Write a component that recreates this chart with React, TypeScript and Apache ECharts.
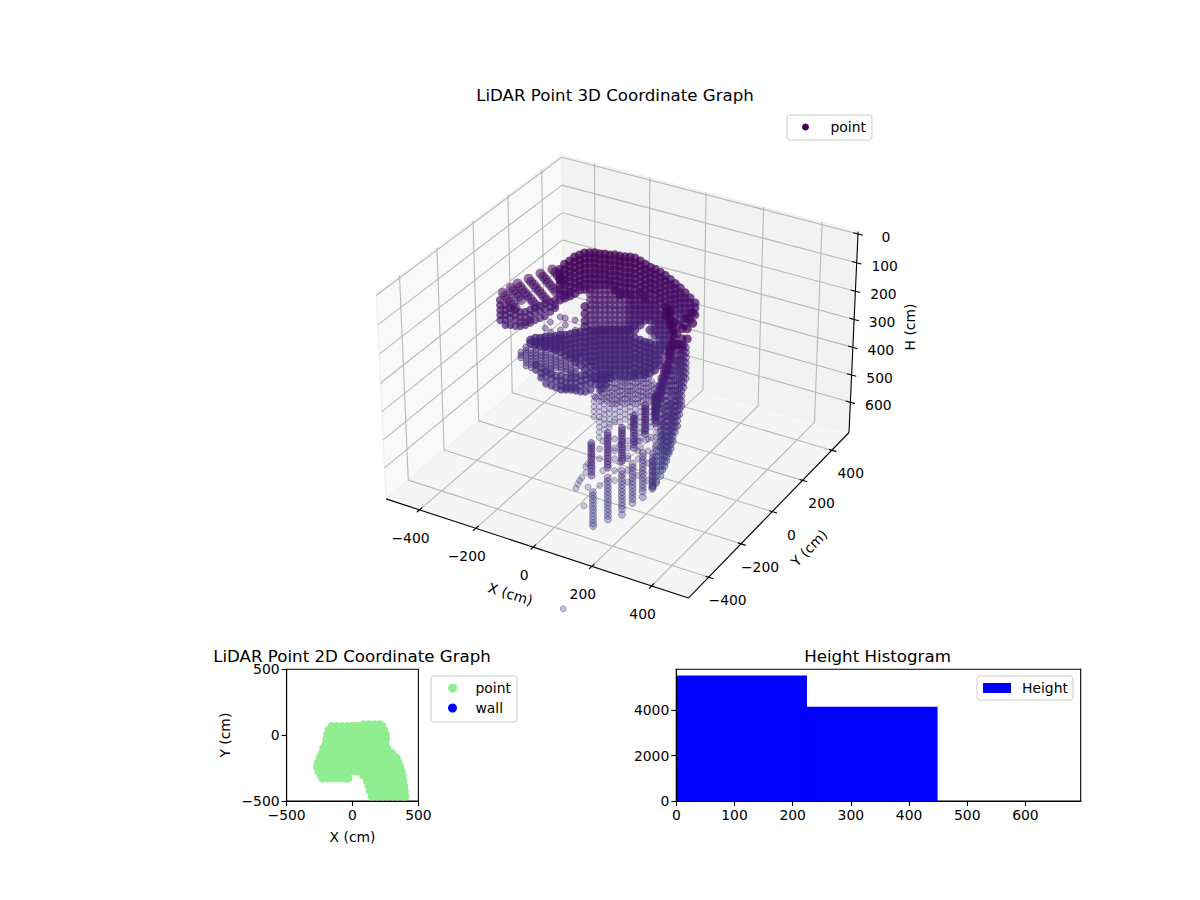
import React, { useEffect, useRef } from 'react';
import * as echarts from 'echarts';

// tick labels of the 3D box
const xTicks3d = [-400, -200, 0, 200, 400];
const yTicks3d = [-400, -200, 0, 200, 400];
const hTicks3d = [0, 100, 200, 300, 400, 500, 600];

// point cloud, each entry is [X, Y, H, H, H ...] in cm: one spot seen at several heights
const capColumns = [
  [-209, -10, 71, 88, 106, 124, 142, 159, 177],
  [-196, -3, 53, 71, 88, 106, 124, 142, 159, 170],
  [-183, 5, 42, 60, 78, 96, 114, 132, 150, 163],
  [-170, 12, 28, 46, 64, 82, 100, 118, 136, 154],
  [-157, 20, 21, 39, 57, 75, 93, 111, 128, 142],
  [-144, 27, 14, 32, 50, 68, 86, 104, 122, 140, 200, 225, 250, 270],
  [-131, 35, 14, 32, 50, 68, 86, 104, 122, 140],
  [-118, 43, 14, 32, 50, 68, 86, 106, 124],
  [-105, 50, 18, 35, 53, 71, 88, 106, 124],
  [-92, 58, 18, 35, 53, 71, 88, 106, 124],
  [-79, 65, 21, 39, 57, 75, 93, 111, 124],
  [-66, 73, 21, 39, 57, 75, 93, 111, 128, 142],
  [-53, 80, 25, 42, 60, 78, 96, 114, 132, 150, 159],
  [-40, 88, 28, 46, 64, 82, 100, 118, 136, 154],
  [-27, 95, 28, 46, 64, 82, 100, 118, 136, 159],
  [-14, 103, 32, 50, 68, 86, 104, 122, 140, 159],
  [0, 111, 42, 60, 78, 96, 114, 132, 150, 159],
  [13, 118, 53, 71, 88, 106, 124, 142, 159, 170],
  [26, 126, 64, 82, 100, 118, 136, 154, 177],
  [39, 133, 71, 88, 106, 124, 142, 159, 177, 195],
  [52, 141, 81, 99, 117, 135, 153, 171, 189, 212],
  [65, 148, 92, 110, 128, 146, 164, 182, 200, 230],
  [78, 156, 106, 124, 142, 159, 177, 195, 212, 248],
  [91, 163, 120, 138, 156, 174, 192, 210, 230, 255],
  [104, 171, 135, 153, 171, 189, 207, 225, 248, 265],
  [117, 178, 152, 170, 188, 206, 224, 242, 265],
  [130, 186, 170, 188, 206, 224, 248],
  [143, 194, 188, 206, 230],
  [297, -104, 32, 67],
  [284, -112, 50, 85, 120],
  [271, -119, 85, 120, 145],
  [258, -127, 103, 138],
];

const lobeColumns = [
  [-366, -101, 177, 195, 212, 230, 248],
  [-353, -93, 195, 212, 230, 248, 265],
  [-340, -86, 205, 222, 240, 265],
  [-327, -78, 212, 230, 248, 269],
  [-314, -71, 219, 237, 255, 269],
  [-301, -63, 219, 237, 255, 265],
  [-288, -55, 212, 230, 248, 258],
  [-275, -48, 205, 222, 248],
  [-262, -40, 198, 216, 241],
  [-249, -33, 191, 209, 234],
  [-235, -25, 184, 202, 219],
  [-222, -18, 177, 195, 205],
];

const fingerPoints = [
  [-358, -96, 152], [-352, -92, 163], [-345, -88, 173], [-339, -85, 184], [-332, -81, 194], [-326, -77, 205],
  [-337, -84, 135], [-331, -80, 145], [-324, -76, 156], [-318, -73, 166], [-311, -69, 177],
  [-319, -74, 120], [-312, -70, 131], [-306, -67, 141], [-299, -63, 152], [-293, -59, 162], [-286, -55, 173], [-280, -51, 184], [-273, -47, 194],
  [-290, -57, 103], [-284, -53, 114], [-277, -49, 124], [-271, -46, 135], [-264, -42, 145], [-258, -38, 156], [-251, -34, 167], [-245, -30, 177],
  [-259, -39, 85], [-252, -35, 96], [-246, -31, 106], [-239, -28, 117], [-233, -24, 127], [-226, -20, 138], [-220, -16, 149],
  [-228, -21, 71], [-221, -17, 81], [-215, -13, 92], [-208, -10, 102], [-202, -6, 113],
];

const midColumns = [
  [-131, 35, 159, 177, 195, 212, 230, 248, 265, 283],
  [-118, 43, 142, 159, 177, 195, 212, 230, 248, 265, 283],
  [-105, 50, 142, 159, 177, 195, 212, 230, 248, 265, 283],
  [-92, 58, 142, 159, 177, 195, 212, 230, 248, 265, 283],
  [-79, 65, 142, 159, 177, 195, 212, 230, 248, 265, 283],
  [-66, 73, 142, 159, 177, 195, 212, 230, 248, 265, 283],
  [-53, 80, 159, 177, 195, 212, 230, 248, 265, 283],
  [-40, 88, 159, 177, 195, 212, 230, 248, 265, 283],
];

const midRightColumns = [
  [-27, 95, 159, 177, 195, 212, 230, 248, 265, 283],
  [-14, 103, 177, 195, 212, 230, 248, 265, 283],
  [0, 111, 177, 195, 212, 230, 248, 265],
  [13, 118, 177, 195, 212, 230, 248],
  [26, 126, 195, 212, 230, 248, 283],
  [39, 133, 212, 230, 248, 265, 283, 301],
  [52, 141, 230, 248, 265, 283, 301, 319],
  [65, 148, 248, 265, 283, 301, 319, 336, 354],
  [78, 156, 265, 283, 301, 319, 336, 354, 372],
];

const plateColumns = [
  [-288, -55, 319, 330],
  [-275, -48, 312, 326, 336],
  [-262, -40, 312, 326, 340],
  [-249, -33, 308, 322, 336, 343],
  [-235, -25, 308, 322, 336, 347],
  [-222, -18, 305, 319, 333, 347, 354],
  [-209, -10, 301, 315, 329, 343, 361],
  [-196, -3, 301, 319, 336, 354, 372],
  [-183, 5, 298, 316, 333, 351, 369, 382],
  [-170, 12, 294, 312, 329, 347, 365, 382, 396],
  [-157, 20, 290, 308, 326, 343, 361, 379, 407],
  [-144, 27, 290, 308, 326, 343, 361, 379, 397, 425],
  [-131, 35, 287, 305, 322, 340, 358, 376, 393, 411, 439],
  [-118, 43, 287, 305, 322, 340, 358, 376, 393, 411, 429, 453],
  [-105, 50, 283, 301, 319, 336, 354, 372, 389, 407, 425, 442, 453],
  [-92, 58, 283, 301, 319, 336, 354, 372, 389, 407, 425, 442, 453],
  [-79, 65, 283, 301, 319, 336, 354, 372, 389, 407, 425, 442, 453],
  [-66, 73, 283, 301, 319, 336, 354, 372, 389, 407, 425, 446],
  [-53, 80, 283, 301, 319, 336, 354, 372, 389, 407, 425, 446],
  [-40, 88, 283, 301, 319, 336, 354, 372, 389, 407, 425, 446],
  [-27, 95, 283, 301, 319, 336, 354, 372, 389, 407, 425, 446],
  [-14, 103, 312, 329, 347, 365, 383, 400, 418, 436, 446],
  [0, 111, 319, 336, 354, 372, 389, 407, 425, 442],
  [13, 118, 326, 343, 361, 379, 396, 414, 432, 442],
  [26, 126, 329, 347, 365, 383, 400, 418, 436],
  [39, 133, 336, 354, 372, 389, 407, 425],
  [52, 141, 336, 354, 372, 389, 407],
];

const lowerBandColumns = [
  [-275, -48, 407, 425],
  [-262, -40, 418, 436, 453],
  [-249, -33, 432, 450, 474],
  [-235, -25, 439, 457, 481],
  [-222, -18, 446, 464, 488],
  [-209, -10, 446, 464, 482, 496],
  [-196, -3, 453, 471, 489, 496],
  [-183, 5, 453, 471, 489, 496],
  [-170, 12, 453, 471, 489, 499],
  [-157, 20, 446, 464, 482, 503],
  [-144, 27, 442, 460, 478, 503],
  [-131, 35, 453, 471, 496],
  [-118, 43, 460, 478],
  [-105, 50, 460, 478, 496],
  [-92, 58, 460, 482],
];

const looseColumns = [
  [-314, -71, 361, 372, 382],
  [-301, -63, 343, 354, 365, 377, 389, 400, 411],
  [-288, -55, 354, 365, 375, 385, 396, 407, 418],
  [-275, -48, 354, 365, 375, 385, 396, 404],
  [-262, -40, 361, 372, 382, 393, 404],
  [-249, -33, 276, 361, 372, 382, 393, 404, 414, 425],
  [-235, -25, 255, 290, 368, 378, 389, 400, 411, 422, 432],
  [-222, -18, 375, 385, 396, 407, 418],
  [-209, -10, 237, 283, 382, 393, 404, 414, 425],
  [-196, -3, 241, 265, 389, 400, 411, 422, 432],
  [-183, 5, 404, 414, 425, 435, 442],
  [-170, 12, 248, 283, 418, 429, 439],
  [-118, 43, 524],
];

const curtainColumns = [
  [109, -350, 244, 262, 280, 297, 315],
  [122, -343, 209, 227, 244, 262, 280, 297, 315, 333, 350, 368, 386],
  [135, -335, 200, 218, 236, 253, 271, 289, 306, 324, 342, 359],
  [148, -328, 198, 216, 234, 251, 269, 287, 304, 322, 340, 350],
  [161, -320, 200, 218, 236, 253, 271, 289, 306, 324, 333],
  [174, -313, 191, 209, 227, 244, 262, 280, 297, 315, 333],
  [187, -305, 191, 200, 218, 236, 253, 271, 289, 306, 324],
  [200, -298, 191, 209, 227, 244, 262, 280, 297, 315, 333, 350],
  [213, -290, 184, 200, 218, 236, 253, 271, 289, 306, 324, 342, 377, 404],
  [227, -283, 191, 209, 227, 244, 262, 280, 297, 315, 333, 350, 368, 386, 421],
  [240, -275, 184, 200, 218, 236, 253, 271, 289, 306, 324, 342, 359, 395],
  [253, -267, 191, 209, 227, 244, 262, 280, 297, 315, 333, 350, 386],
  [266, -260, 209, 227, 244, 262, 280, 297, 315, 333, 350, 368, 386],
  [279, -252, 218, 236, 253, 271, 289, 306, 324, 342, 359, 377, 395, 421],
];

const curtainTopColumns = [
  [128, -339, 205, 219, 233, 247, 261],
  [141, -331, 191, 205, 219, 233, 247, 261],
  [154, -324, 187, 201, 215, 229, 243, 257, 270],
  [167, -316, 187, 201, 215, 229, 243, 257, 270],
  [180, -309, 184, 198, 212, 226, 240, 254, 268],
  [193, -301, 184, 198, 212, 226, 240, 254, 268],
  [206, -294, 184, 198, 212, 226, 240, 254, 268],
  [220, -286, 184, 198, 212, 226, 240, 254, 268],
  [233, -279, 187, 201, 215, 229, 243, 257],
  [246, -271, 187, 201, 215, 229, 243, 257],
  [259, -263, 205, 219, 233, 247, 261],
];

const flankColumns = [
  [281, -113, 149, 166, 184, 202, 219, 237, 255],
  [276, -116, 142, 160, 178, 196, 214, 232, 250, 268, 286],
  [271, -119, 138, 156, 174, 192, 210, 227, 245, 262, 280, 298, 315, 333, 350],
  [266, -122, 138, 156, 174, 192, 200, 218, 236, 254, 272, 290, 308, 326, 344, 362, 380],
  [261, -125, 138, 156, 174, 192, 210, 227, 245, 262, 280, 298, 315, 333, 350, 368, 386, 403, 421],
  [255, -128, 160, 178, 196, 214, 232, 262, 280, 298, 316, 334, 352, 370, 388, 406, 424, 442],
  [250, -131, 190, 208, 226, 244, 262, 297, 315, 333, 350, 368, 386, 403, 421, 439, 457, 474],
  [245, -134, 227, 245, 263, 281, 299, 324, 342, 360, 378, 396, 414, 432, 450, 468, 486, 500],
  [240, -137, 227, 245, 263, 281, 299, 350, 368, 386, 403, 421, 439, 457, 474, 492, 510, 517],
  [234, -140, 280, 298, 316, 334, 352, 386, 404, 422, 440, 458, 476, 494, 512, 530, 545],
  [229, -143, 315, 333, 351, 369, 387, 421, 439, 457, 474, 492, 510, 527, 545, 563],
  [224, -146, 360, 378, 396, 414, 450, 468, 486, 504, 522, 540, 558, 576],
  [219, -149, 404, 422, 440, 458, 474, 492, 510, 527, 545, 563, 580, 598],
  [208, -155, 490, 508, 527, 545, 563, 580, 598, 616, 623],
  [198, -161, 545, 563, 580, 598, 616, 634, 644],
];

const strandColumns = [
  [232, -142, 14, 28, 42, 212, 227, 241],
  [240, -137, 28, 42, 57, 71],
  [247, -133, 64, 78, 92, 135, 149],
  [250, -131, 92, 106, 120, 135],
  [242, -136, 149, 163, 177, 191],
  [237, -139, 177, 191, 205, 219],
  [227, -145, 227, 241, 255, 269],
  [221, -148, 255, 269, 283, 297],
  [216, -151, 283, 297, 312, 326],
  [211, -154, 312, 326, 340, 354],
  [206, -157, 340, 354, 368, 382],
];

const rodUpperColumns = [
  [224, -560, 255, 264, 273, 282, 292, 301, 310, 320, 330, 340, 352, 365],
  [264, -537, 221, 230, 239, 248, 258, 267, 276, 286, 296, 306, 317, 328, 338],
  [299, -517, 204, 213, 222, 231, 241, 250, 259, 268, 278, 287, 296, 306, 315],
  [328, -500, 164, 173, 182, 191, 201, 210, 220, 230, 240, 250, 260, 271],
  [355, -484, 131, 140, 149, 158, 168, 177, 186, 196, 206, 215, 224],
  [380, -470, 97, 106, 115, 124, 134, 143, 152, 161, 170, 179, 188],
];

const rodLowerColumns = [
  [227, -558, 422, 434, 446, 458, 470, 482, 494, 506, 518, 530, 539],
  [264, -537, 372, 384, 396, 408, 420, 432, 444, 456, 468, 480, 492, 504, 516],
  [299, -517, 349, 361, 373, 385, 397, 409, 421, 433, 445, 457, 469, 481, 499],
  [325, -502, 325, 337, 349, 361, 373, 385, 397, 409, 421, 433, 445, 459],
  [350, -487, 288, 300, 312, 324, 336, 348, 360, 372, 384, 396, 408, 420, 439],
  [375, -473, 291, 303, 315, 327, 339, 351, 363, 375, 387, 399, 405],
];

const strayColumns = [
  [185, -582, 409],
  [190, -579, 395],
  [195, -577, 382],
  [200, -574, 372],
  [205, -571, 469],
  [210, -568, 335, 355],
  [215, -565, 325, 405],
  [244, -548, 275, 308, 399],
  [252, -544, 248, 348],
  [281, -527, 241, 272, 281, 308, 348, 382],
  [294, -520, 260, 320],
  [313, -508, 248, 272, 298, 308, 348, 388],
  [338, -494, 248, 281, 308, 365],
  [343, -491, 248],
  [363, -480, 241, 281, 322, 382],
  [380, -470, 248, 271],
];

const outlierPoint = [265, -790, 675];

// 2D footprint, each row is [Y, X, X, X ...] in cm
const footprintRows = [
  [82, 85, 125, 165, 205],
  [70, -160, -120, -80, -40, -5, 25, 55, 100, 150, 190, 226],
  [40, -180, -140, -100, -60, -20, 20, 60, 100, 140, 180, 220, 240],
  [5, -192, -152, -112, -72, -32, 8, 48, 88, 128, 168, 208, 248, 254],
  [-30, -200, -160, -120, -80, -40, 0, 40, 80, 120, 160, 200, 240, 254],
  [-65, -205, -165, -125, -85, -45, -5, 35, 75, 115, 155, 195, 235, 250],
  [-100, -222, -182, -142, -102, -62, -22, 18, 58, 98, 138, 178, 218, 265],
  [-135, -232, -192, -152, -112, -72, -32, 8, 48, 88, 128, 168, 208, 248, 300],
  [-170, -248, -208, -168, -128, -88, -48, -8, 32, 72, 112, 152, 192, 232, 272, 312, 335],
  [-205, -262, -222, -182, -142, -102, -62, -22, 18, 58, 98, 138, 178, 218, 258, 298, 348],
  [-240, -270, -230, -190, -150, -110, -70, -30, 10, 50, 90, 130, 170, 210, 250, 290, 330, 362],
  [-275, -260, -220, -180, -140, -100, -60, -20, 20, 60, 100, 140, 180, 220, 260, 300, 340, 373],
  [-305, -240, -200, -160, -120, -80, -40, 80, 120, 160, 200, 240, 280, 320, 360, 380],
  [-328, -228, -188, -142, -100, -62, -30],
  [-345, 108, 148, 188, 228, 268, 308, 348, 385],
  [-385, 120, 160, 200, 240, 280, 320, 360, 393],
  [-425, 132, 172, 212, 252, 292, 332, 372, 398],
  [-465, 145, 185, 225, 265, 305, 345, 385, 402],
  [-505, 155, 195, 235, 275, 315, 355, 395, 405],
];

const histEdges = [0, 224.6, 449, 674];
const histCounts = [5526, 4147, 1];

const FONT = '"DejaVu Sans"';
const X_LIM = 521;
const H_TOP = -8;
const H_BOTTOM = 712;

// matplotlib's default view (elev 30, azim -60), with the H axis pointing down
const project = (x: number, y: number, h: number): [number, number] => {
  const px = (x / X_LIM) * 0.595;
  const py = (y / X_LIM) * 0.595;
  const pz = 0.4 - ((h - H_TOP) / (H_BOTTOM - H_TOP)) * 0.8;
  const u = 0.866 * px + 0.5 * py;
  const v = -0.25 * px + 0.433 * py + 0.866 * pz;
  const d = 10 - (0.433 * px - 0.75 * py + 0.5 * pz);
  return [621.8 + (2904 * u) / d, 365.4 - (2935 * v) / d];
};

// colour stops along H, the purple end of viridis
const colourStops: [number, number[]][] = [
  [0, [68, 1, 84]],
  [200, [70, 16, 106]],
  [320, [68, 36, 118]],
  [500, [67, 40, 122]],
  [700, [63, 74, 138]],
];

const heightColour = (h: number, alpha: number) => {
  let i = 0;
  while (i < colourStops.length - 2 && h > colourStops[i + 1][0]) i++;
  const [h0, c0] = colourStops[i];
  const [h1, c1] = colourStops[i + 1];
  const t = Math.min(1, Math.max(0, (h - h0) / (h1 - h0)));
  const rgb = c0.map((c, k) => Math.round(c + (c1[k] - c) * t));
  return `rgba(${rgb[0]},${rgb[1]},${rgb[2]},${alpha})`;
};

// ring: the thin darker edge of a lone marker, dense parts are drawn without it
// tone: nudges the colour of the front parts towards the blue end
const pointItem = (x: number, y: number, h: number, alpha: number, size: number, ring: boolean, tone = 0) => ({
  value: project(x, y, h),
  symbolSize: size,
  itemStyle: {
    color: heightColour(h + tone, alpha),
    borderColor: ring ? heightColour(h + tone, alpha + 0.12) : 'transparent',
    borderWidth: ring ? 1 : 0,
  },
});

const expandColumns = (columns: number[][], alpha: number, size = 6, ring = true, tone = 0) =>
  columns.flatMap(([x, y, ...heights]) => heights.map(h => pointItem(x, y, h, alpha, size, ring, tone)));

const cloudData = [
  ...expandColumns(curtainColumns, 0.3, 6, true, 250),
  ...expandColumns(curtainTopColumns, 0.3, 6, true, 250),
  ...expandColumns(strayColumns, 0.34, 6, true, 250),
  ...expandColumns(looseColumns, 0.5),
  ...expandColumns(flankColumns, 0.5, 7, true, 100),
  ...expandColumns(rodLowerColumns, 0.42, 7, true, 150),
  ...expandColumns(rodUpperColumns, 0.55, 7, true, 100),
  ...expandColumns(midColumns, 0.75, 8, false),
  ...expandColumns(midRightColumns, 0.9, 9, false),
  ...expandColumns(plateColumns, 0.95, 9, false),
  ...expandColumns(lowerBandColumns, 0.85, 8, false),
  ...fingerPoints.map(([x, y, h]) => pointItem(x, y, h, 0.7, 10, false)),
  ...expandColumns(lobeColumns, 0.85, 8, false),
  ...expandColumns(capColumns, 0.92, 9, false),
  ...expandColumns(strandColumns, 0.8, 9, false),
  pointItem(outlierPoint[0], outlierPoint[1], outlierPoint[2], 0.42, 6, true),
];

const footprintData = footprintRows.flatMap(([y, ...xs]) => xs.map(x => [x, y]));

const minusSign = (value: number) => String(value).replace('-', '\u2212');

const renderBox = (_params: any, api: any) => {
  const at = (x: number, y: number, h: number) => api.coord(project(x, y, h));
  const xMin = -X_LIM;
  const xMax = X_LIM;
  const yMin = -X_LIM;
  const yMax = X_LIM;
  const pane = (corners: [number, number, number][], fill: string) => ({
    type: 'polygon',
    shape: { points: corners.map(c => at(c[0], c[1], c[2])) },
    style: { fill, stroke: '#eeeeee', lineWidth: 1 },
  });
  const segment = (a: [number, number, number], b: [number, number, number], stroke: string) => {
    const [x1, y1] = at(a[0], a[1], a[2]);
    const [x2, y2] = at(b[0], b[1], b[2]);
    return { type: 'line', shape: { x1, y1, x2, y2 }, style: { stroke, lineWidth: 1.1 } };
  };
  const GRID = '#b8b8b8';
  const AXIS = '#000000';
  return {
    type: 'group',
    children: [
      pane([[xMin, yMin, H_TOP], [xMin, yMax, H_TOP], [xMin, yMax, H_BOTTOM], [xMin, yMin, H_BOTTOM]], '#f9f9f9'),
      pane([[xMin, yMax, H_TOP], [xMax, yMax, H_TOP], [xMax, yMax, H_BOTTOM], [xMin, yMax, H_BOTTOM]], '#f2f2f2'),
      pane([[xMin, yMin, H_BOTTOM], [xMax, yMin, H_BOTTOM], [xMax, yMax, H_BOTTOM], [xMin, yMax, H_BOTTOM]], '#f5f5f5'),
      ...xTicks3d.flatMap(x => [
        segment([x, yMin, H_BOTTOM], [x, yMax, H_BOTTOM], GRID),
        segment([x, yMax, H_BOTTOM], [x, yMax, H_TOP], GRID),
      ]),
      ...yTicks3d.flatMap(y => [
        segment([xMin, y, H_BOTTOM], [xMax, y, H_BOTTOM], GRID),
        segment([xMin, y, H_BOTTOM], [xMin, y, H_TOP], GRID),
      ]),
      ...hTicks3d.flatMap(h => [
        segment([xMin, yMin, h], [xMin, yMax, h], GRID),
        segment([xMin, yMax, h], [xMax, yMax, h], GRID),
      ]),
      segment([xMin, yMin, H_BOTTOM], [xMax, yMin, H_BOTTOM], AXIS),
      segment([xMax, yMin, H_BOTTOM], [xMax, yMax, H_BOTTOM], AXIS),
      segment([xMax, yMax, H_TOP], [xMax, yMax, H_BOTTOM], AXIS),
      ...xTicks3d.map(x => segment([x, yMin - 15, H_BOTTOM], [x, yMin + 15, H_BOTTOM], AXIS)),
      ...yTicks3d.map(y => segment([xMax - 10, y, H_BOTTOM], [xMax + 16, y, H_BOTTOM], AXIS)),
      ...hTicks3d.map(h => segment([xMax - 16, yMax, h], [xMax + 16, yMax, h], AXIS)),
    ],
  };
};

const renderBoxLabels = (_params: any, api: any) => {
  const label = (text: string, x: number, y: number, rotation = 0) => ({
    type: 'text',
    x,
    y,
    rotation,
    style: { text, fill: '#000', font: `13.9px ${FONT}`, align: 'center', verticalAlign: 'middle' },
  });
  const at = (x: number, y: number, h: number) => api.coord(project(x, y, h));
  return {
    type: 'group',
    children: [
      ...xTicks3d.map(x => {
        const [sx, sy] = at(x, -X_LIM, H_BOTTOM);
        return label(minusSign(x), sx - 9, sy + 28);
      }),
      ...yTicks3d.map(y => {
        const [sx, sy] = at(X_LIM, y, H_BOTTOM);
        return label(minusSign(y), sx + 19, sy + 23);
      }),
      ...hTicks3d.map(h => {
        const [sx, sy] = at(X_LIM, X_LIM, h);
        return label(String(h), sx + 28, sy + 3);
      }),
      label('X (cm)', ...(api.coord([510.5, 594]) as [number, number]), -0.3),
      label('Y (cm)', ...(api.coord([809, 548]) as [number, number]), 0.8),
      label('H (cm)', ...(api.coord([910, 327]) as [number, number]), Math.PI / 2),
    ],
  };
};

const renderHistBar = (_params: any, api: any) => {
  const [x0, y0] = api.coord([api.value(0), 0]);
  const [x1, y1] = api.coord([api.value(1), api.value(2)]);
  return {
    type: 'rect',
    shape: { x: x0, y: y1, width: x1 - x0, height: y0 - y1 },
    style: { fill: '#0000ff' },
  };
};

const legendBox = {
  selectedMode: false,
  orient: 'vertical' as const,
  borderColor: '#cccccc',
  borderWidth: 1,
  borderRadius: 3,
  backgroundColor: 'rgba(255,255,255,0.8)',
};

const axisStyle = {
  z: 5,
  axisLine: { onZero: false, lineStyle: { color: '#000', width: 1.1 } },
  axisTick: { length: 5, lineStyle: { color: '#000', width: 1.1 } },
  splitLine: { show: false },
  nameTextStyle: { color: '#000', fontSize: 13.9, fontFamily: FONT },
};

const tickLabel = { color: '#000', fontSize: 13.9, fontFamily: FONT, margin: 7 };

const buildOption = () => ({
  animation: false,
  backgroundColor: '#ffffff',
  textStyle: { fontFamily: FONT },
  title: [
    { text: 'LiDAR Point 3D Coordinate Graph', left: 615, top: 87 },
    { text: 'LiDAR Point 2D Coordinate Graph', left: 352, top: 648 },
    { text: 'Height Histogram', left: 877.5, top: 648 },
  ].map(t => ({
    ...t,
    textAlign: 'center',
    padding: 0,
    textStyle: { color: '#000', fontSize: 16.67, fontWeight: 'normal', fontFamily: FONT },
  })),
  legend: [
    {
      ...legendBox,
      left: 787,
      top: 115,
      padding: [5, 6, 6, 15],
      itemWidth: 34,
      itemHeight: 7,
      data: [{ name: 'point', icon: 'circle', itemStyle: { color: '#440154', opacity: 1, borderWidth: 0 } }],
      textStyle: { color: '#000', fontSize: 13.9, fontFamily: FONT, padding: [0, 0, 0, 3] },
    },
    {
      ...legendBox,
      left: 431,
      top: 676,
      padding: [5, 6, 7, 17],
      itemWidth: 34,
      itemHeight: 9,
      itemGap: 6,
      data: [
        { name: 'point', icon: 'circle', itemStyle: { color: '#90EE90', opacity: 1, borderWidth: 0 } },
        { name: 'wall', icon: 'circle', itemStyle: { color: '#0000ff', opacity: 1, borderWidth: 0 } },
      ],
      textStyle: { color: '#000', fontSize: 13.9, fontFamily: FONT, padding: [0, 0, 0, 1] },
    },
    {
      ...legendBox,
      left: 977,
      top: 676,
      padding: [5, 5, 5, 6],
      itemWidth: 28,
      itemHeight: 10,
      data: [{ name: 'Height', icon: 'rect', itemStyle: { color: '#0000ff', opacity: 1, borderWidth: 0 } }],
      textStyle: { color: '#000', fontSize: 13.9, fontFamily: FONT, padding: [0, 0, 0, 6] },
    },
  ],
  grid: [
    { left: 0, top: 0, width: 1200, height: 900 },
    { left: 286.6, top: 669.2, width: 131.8, height: 131.9, show: true, borderColor: '#000', borderWidth: 1.1, backgroundColor: 'transparent' },
    { left: 676.3, top: 669.2, width: 404.4, height: 131.9, show: true, borderColor: '#000', borderWidth: 1.1, backgroundColor: 'transparent' },
  ],
  xAxis: [
    { type: 'value', gridIndex: 0, min: 0, max: 1200, show: false },
    {
      ...axisStyle,
      type: 'value',
      gridIndex: 1,
      min: -500,
      max: 500,
      interval: 500,
      name: 'X (cm)',
      nameLocation: 'middle',
      nameGap: 29,
      axisLabel: { ...tickLabel, formatter: minusSign },
    },
    {
      ...axisStyle,
      type: 'value',
      gridIndex: 2,
      min: 0,
      max: 695,
      axisTick: { ...axisStyle.axisTick, customValues: [0, 100, 200, 300, 400, 500, 600] },
      axisLabel: { ...tickLabel, customValues: [0, 100, 200, 300, 400, 500, 600], formatter: (v: number) => String(v) },
    },
  ],
  yAxis: [
    { type: 'value', gridIndex: 0, min: 0, max: 900, inverse: true, show: false },
    {
      ...axisStyle,
      type: 'value',
      gridIndex: 1,
      min: -500,
      max: 500,
      interval: 500,
      name: 'Y (cm)',
      nameLocation: 'middle',
      nameGap: 55,
      axisLabel: { ...tickLabel, formatter: minusSign },
    },
    {
      ...axisStyle,
      type: 'value',
      gridIndex: 2,
      min: 0,
      max: 5802,
      axisTick: { ...axisStyle.axisTick, customValues: [0, 2000, 4000] },
      axisLabel: { ...tickLabel, customValues: [0, 2000, 4000], formatter: (v: number) => String(v) },
    },
  ],
  series: [
    {
      type: 'custom',
      name: 'box',
      xAxisIndex: 0,
      yAxisIndex: 0,
      silent: true,
      data: [[0, 0]],
      renderItem: renderBox,
      z: 1,
    },
    {
      type: 'scatter',
      name: 'point',
      xAxisIndex: 0,
      yAxisIndex: 0,
      symbol: 'circle',
      large: false,
      clip: false,
      silent: true,
      data: cloudData,
      z: 2,
    },
    {
      type: 'custom',
      name: 'boxLabels',
      xAxisIndex: 0,
      yAxisIndex: 0,
      silent: true,
      data: [[0, 0]],
      renderItem: renderBoxLabels,
      z: 3,
    },
    {
      type: 'scatter',
      name: 'point',
      xAxisIndex: 1,
      yAxisIndex: 1,
      symbol: 'circle',
      symbolSize: 8,
      silent: true,
      itemStyle: { color: '#90EE90', opacity: 1 },
      data: footprintData,
      z: 2,
    },
    {
      type: 'scatter',
      name: 'wall',
      xAxisIndex: 1,
      yAxisIndex: 1,
      symbol: 'circle',
      itemStyle: { color: '#0000ff' },
      data: [],
    },
    {
      type: 'custom',
      name: 'Height',
      xAxisIndex: 2,
      yAxisIndex: 2,
      silent: true,
      encode: { x: [0, 1], y: 2 },
      itemStyle: { color: '#0000ff' },
      data: histCounts.map((count, i) => [histEdges[i], histEdges[i + 1], count]),
      renderItem: renderHistBar,
      z: 2,
    },
  ],
});

export default function App() {
  const chartRef = useRef<HTMLDivElement>(null);

  useEffect(() => {
    if (!chartRef.current) return;
    const chart = echarts.init(chartRef.current, undefined, { renderer: 'svg' });
    chart.setOption(buildOption() as any);
    return () => {
      chart.dispose();
    };
  }, []);

  return <div ref={chartRef} style={{ position: 'absolute', left: 0, top: 0, width: 1200, height: 900 }} />;
}
